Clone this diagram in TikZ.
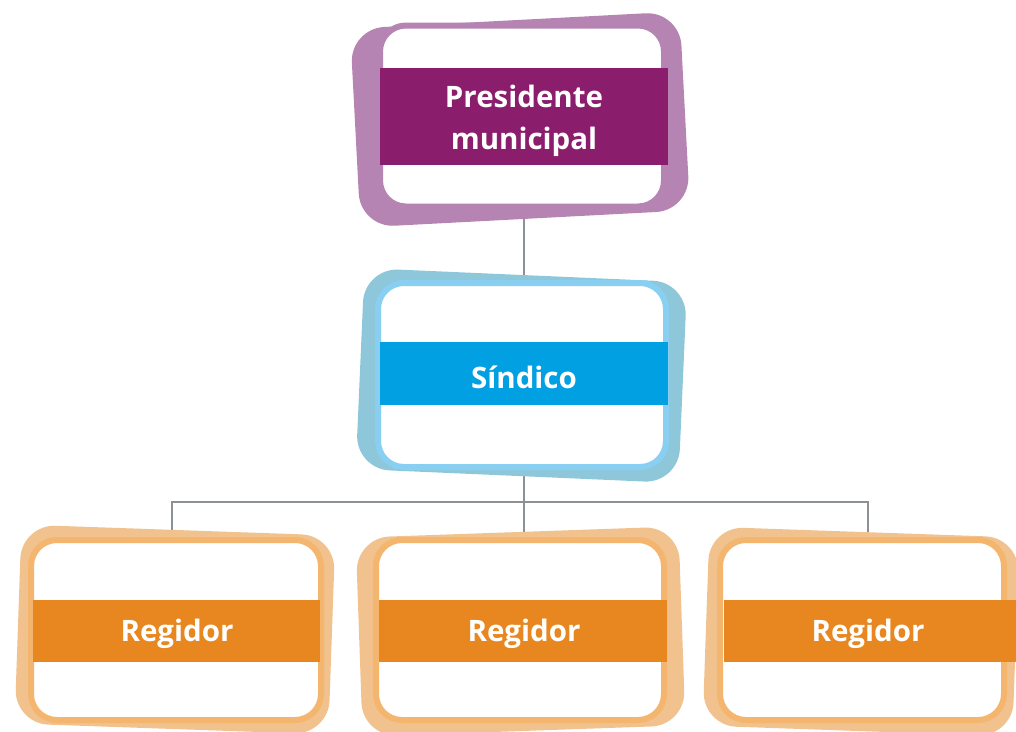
\documentclass[tikz,border=0pt]{standalone}
\usepackage{fontspec}
\setmainfont{Open Sans}
\usetikzlibrary{backgrounds}
\definecolor{pOut}{HTML}{B584B2}
\definecolor{pBand}{HTML}{8B1E6C}
\definecolor{sOut}{HTML}{8DC7D9}
\definecolor{sRing}{HTML}{88CFF1}
\definecolor{sBand}{HTML}{00A0E3}
\definecolor{rOut}{HTML}{F1C28D}
\definecolor{rRing}{HTML}{F4B66E}
\definecolor{rBand}{HTML}{E88720}
\definecolor{conn}{HTML}{8C9196}
\tikzset{
  outer/.style={rounded corners=34pt},
  frame/.style={draw=#1, fill=white, line width=6pt, rounded corners=26pt, inner sep=0pt},
  band/.style={fill=#1, inner sep=0pt},
  label text/.style={text=white, inner sep=0pt, align=center,
    font=\fontsize{29.5}{42}\selectfont\bfseries},
  conn/.style={draw=conn, line width=1.6pt}
}
\begin{document}
\begin{tikzpicture}[x=1pt,y=-1pt]
\useasboundingbox (0,0) rectangle (1016,731);
% outer tilted shapes
\fill[pOut, outer, rotate around={3:(520,118)}] (355,20) rectangle (685,219);
\fill[sOut, outer, rotate around={-2.5:(520,374)}] (360,275) rectangle (683,476);
\fill[rOut, outer, rotate around={-2:(175,628)}] (18,530) rectangle (332,729);
\fill[rOut, outer, rotate around={2:(520,630)}] (359,532) rectangle (682,731);
\fill[rOut, outer, rotate around={-2:(860,630)}] (706,532) rectangle (1016,731);
% frames
\node[frame=pOut, minimum width=284pt, minimum height=181pt] (pf) at (522,116) {};
\node[frame=sRing, minimum width=288pt, minimum height=184pt] (sf) at (522,375) {};
\node[frame=rRing, minimum width=290pt, minimum height=180pt] (r1f) at (176,630) {};
\node[frame=rRing, minimum width=288pt, minimum height=180pt] (r2f) at (520,630) {};
\node[frame=rRing, minimum width=284pt, minimum height=180pt] (r3f) at (862,630) {};
% bands
\node[band=pBand, minimum width=288pt, minimum height=97pt] (pb) at (524,116.5) {};
\node[band=sBand, minimum width=288pt, minimum height=63pt] (sb) at (524,373.5) {};
\node[band=rBand, minimum width=287pt, minimum height=62pt] (r1b) at (176.5,631) {};
\node[band=rBand, minimum width=288pt, minimum height=62pt] (r2b) at (523,631) {};
\node[band=rBand, minimum width=292pt, minimum height=62pt] (r3b) at (870,631) {};
% texts
\node[label text] (pt) at (524,121) {Presidente\\municipal};
\node[label text] (st) at (524,377) {Síndico};
\node[label text] (r1t) at (177,634) {Regidor};
\node[label text] (r2t) at (524,634) {Regidor};
\node[label text] (r3t) at (868,634) {Regidor};
% connectors
\begin{pgfonlayer}{background}
\coordinate (pbot) at (pb.center |- pf.south);
\coordinate (stop) at (sb.center |- sf.north);
\coordinate (sbot) at (sb.center |- sf.south);
\coordinate (bus) at (524,502);
\coordinate (c1) at (172,540);
\coordinate (c2) at (524,540);
\coordinate (c3) at (868,540);
\draw[conn] (pbot) -- (stop);
\draw[conn] (sbot) -- (bus);
\draw[conn] (c1) |- (bus) -| (c3);
\draw[conn] (bus) -- (c2);
\end{pgfonlayer}
\end{tikzpicture}
\end{document}
